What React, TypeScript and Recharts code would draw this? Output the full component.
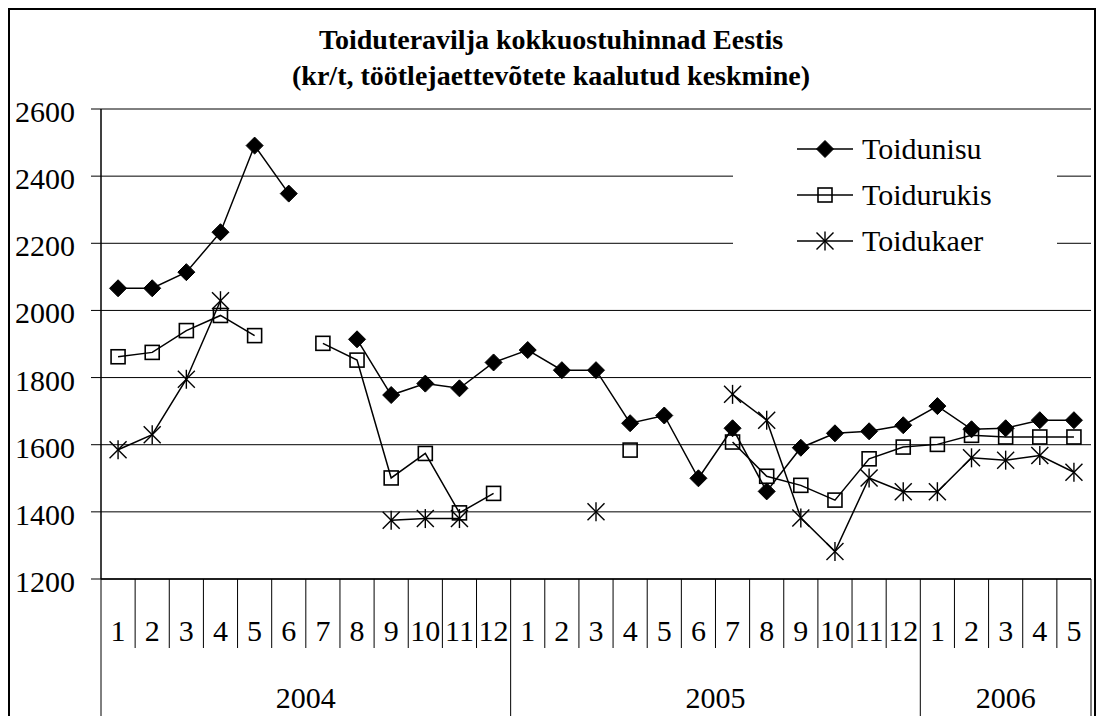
import { LineChart, Line, XAxis, YAxis, CartesianGrid, Legend } from "recharts";

const FONT = '"Liberation Serif", "Times New Roman", serif';

const TITLE_1 = "Toiduteravilja kokkuostuhinnad Eestis";
const TITLE_2 = "(kr/t, töötlejaettevõtete kaalutud keskmine)";

// months on the category axis; a new year starts where the month goes back to 1
const MONTHS = [
  "1", "2", "3", "4", "5", "6", "7", "8", "9", "10", "11", "12",
  "1", "2", "3", "4", "5", "6", "7", "8", "9", "10", "11", "12",
  "1", "2", "3", "4", "5",
];
const YEARS = ["2004", "2005", "2006"];

const Y_TICKS = [1200, 1400, 1600, 1800, 2000, 2200, 2400, 2600];

const NISU = [
  2066, 2066, 2114, 2233, 2491, 2348, null, 1914, 1748, 1782, 1768, 1845,
  1882, 1822, 1822, 1664, 1687, 1500, 1649, 1461, 1591, 1634, 1640, 1658,
  1715, 1646, 1649, 1673, 1673,
];
const RUKIS = [
  1862, 1875, 1940, 1985, 1925, null, 1902, 1852, 1501, 1574, 1397, 1455,
  null, null, null, 1584, null, null, 1608, 1506, 1479, 1435, 1558, 1593,
  1601, 1628, 1623, 1623, 1623,
];
const KAER = [
  1585, 1630, 1795, 2029, null, null, null, null, 1375, 1380, 1380, null,
  null, null, 1400, null, null, null, 1750, 1673, 1382, 1282, 1501, 1460,
  1460, 1561, 1554, 1568, 1518,
];

const SERIES = [
  { key: "nisu", name: "Toidunisu", marker: "diamond" },
  { key: "rukis", name: "Toidurukis", marker: "square" },
  { key: "kaer", name: "Toidukaer", marker: "star" },
];

// year index for each month
const yearIdx: number[] = [];
MONTHS.forEach((m, i) => {
  const prev = i === 0 ? 0 : yearIdx[i - 1];
  yearIdx.push(i > 0 && m === "1" ? prev + 1 : prev);
});
const yearCount = YEARS.map((_, y) => yearIdx.filter((v) => v === y).length);

const data = MONTHS.map((m, i) => ({
  m,
  year: YEARS[yearIdx[i]],
  nisu: NISU[i],
  rukis: RUKIS[i],
  kaer: KAER[i],
}));

// plot spans 101..1091 -> half a month band
const HALF_BAND = 990 / MONTHS.length / 2;

function Marker({ type, cx, cy }: { type: string; cx: number; cy: number }) {
  if (type === "diamond") {
    const r = 8.5;
    return (
      <path
        d={`M${cx},${cy - r}L${cx + r},${cy}L${cx},${cy + r}L${cx - r},${cy}Z`}
        fill="#000"
        stroke="#000"
        strokeWidth={1}
      />
    );
  }
  if (type === "square") {
    const r = 7;
    return (
      <rect x={cx - r} y={cy - r} width={2 * r} height={2 * r} fill="none" stroke="#000" strokeWidth={1.6} />
    );
  }
  const r = 8.5;
  return (
    <g stroke="#000" strokeWidth={1.4}>
      <line x1={cx - r} y1={cy - r} x2={cx + r} y2={cy + r} />
      <line x1={cx - r} y1={cy + r} x2={cx + r} y2={cy - r} />
      <line x1={cx} y1={cy - r - 1} x2={cx} y2={cy + r + 1} />
    </g>
  );
}

const makeDot = (type: string) => (props: any) => {
  const { cx, cy, index, value } = props;
  if (value == null || cy == null || isNaN(cy)) return <g key={`e-${type}-${index}`} />;
  return (
    <g key={`d-${type}-${index}`}>
      <Marker type={type} cx={cx} cy={cy} />
    </g>
  );
};

function YTick(props: any) {
  const { x, y, payload } = props;
  return (
    <text x={x} y={y} dy={13} textAnchor="end" fontSize={30} fontFamily={FONT} fill="#000">
      {payload.value}
    </text>
  );
}

function MonthTick(props: any) {
  const { x, y, payload, index } = props;
  const half = HALF_BAND;
  const i = index ?? payload.index;
  const left = x - half;
  const yr = yearIdx[i];
  const yearStart = i === 0 || yearIdx[i - 1] !== yr;
  const last = i === MONTHS.length - 1;
  return (
    <g>
      <line x1={left} y1={y} x2={left} y2={yearStart ? y + 140 : y + 69} stroke="#000" strokeWidth={1} />
      {last && <line x1={x + half} y1={y} x2={x + half} y2={y + 140} stroke="#000" strokeWidth={1} />}
      <text x={x} y={y + 62} textAnchor="middle" fontSize={30} fontFamily={FONT} fill="#000">
        {payload.value}
      </text>
      {yearStart && (
        <text
          x={left + yearCount[yr] * half}
          y={y + 129}
          textAnchor="middle"
          fontSize={30}
          fontFamily={FONT}
          fill="#000"
        >
          {YEARS[yr]}
        </text>
      )}
    </g>
  );
}

function LegendBox() {
  return (
    <div style={{ width: 324, height: 138, background: "#fff", fontFamily: FONT, fontSize: 30, color: "#000" }}>
      {SERIES.map((s) => (
        <div key={s.key} style={{ height: 46, display: "flex", alignItems: "center" }}>
          <svg width={120} height={46} style={{ display: "block" }}>
            <line x1={64} y1={23} x2={120} y2={23} stroke="#000" strokeWidth={1.5} />
            <Marker type={s.marker} cx={92} cy={23} />
          </svg>
          <span style={{ marginLeft: 9, lineHeight: "46px", whiteSpace: "nowrap" }}>{s.name}</span>
        </div>
      ))}
    </div>
  );
}

export default function App() {
  return (
    <div style={{ position: "absolute", left: 0, top: 0, width: 1096, height: 716, overflow: "hidden", background: "#fff" }}>
      <div
        style={{
          position: "absolute",
          left: 8,
          top: 8,
          width: 1084,
          height: 720,
          borderTop: "2px solid #000",
          borderLeft: "2px solid #000",
          borderRight: "2px solid #000",
        }}
      />
      <div style={{ position: "absolute", left: 0, top: 0 }}>
        <LineChart width={1096} height={716} data={data} margin={{ top: 109, right: 5, bottom: 0, left: 8 }}>
          <CartesianGrid vertical={false} stroke="#000" strokeWidth={1} />
          <XAxis
            dataKey="m"
            height={137}
            interval={0}
            padding={{ left: HALF_BAND, right: HALF_BAND }}
            tickSize={0}
            tickMargin={0}
            tickLine={false}
            axisLine={{ stroke: "#000", strokeWidth: 1.5 }}
            tick={<MonthTick />}
          />
          <YAxis
            width={93}
            domain={[1200, 2600]}
            ticks={Y_TICKS}
            interval={0}
            tickSize={10}
            tickMargin={16}
            axisLine={{ stroke: "#000", strokeWidth: 1.5 }}
            tickLine={{ stroke: "#000" }}
            tick={<YTick />}
          />
          <YAxis
            yAxisId="right"
            orientation="right"
            width={0}
            domain={[1200, 2600]}
            tick={false}
            tickLine={false}
            axisLine={{ stroke: "#000", strokeWidth: 1 }}
          />
          <Legend
            layout="vertical"
            align="center"
            verticalAlign="middle"
            content={() => <LegendBox />}
            wrapperStyle={{ left: 733, top: 126, width: 324, height: 138 }}
          />
          {SERIES.map((s) => (
            <Line
              key={s.key}
              dataKey={s.key}
              name={s.name}
              type="linear"
              stroke="#000"
              strokeWidth={1.5}
              dot={makeDot(s.marker)}
              activeDot={false}
              isAnimationActive={false}
            />
          ))}
        </LineChart>
      </div>
      <svg width={1096} height={100} style={{ position: "absolute", left: 0, top: 0 }}>
        <text x={551} y={49} textAnchor="middle" fontSize={28} fontWeight="bold" fontFamily={FONT} fill="#000">
          {TITLE_1}
        </text>
        <text x={551} y={85} textAnchor="middle" fontSize={28} fontWeight="bold" fontFamily={FONT} fill="#000">
          {TITLE_2}
        </text>
      </svg>
    </div>
  );
}
